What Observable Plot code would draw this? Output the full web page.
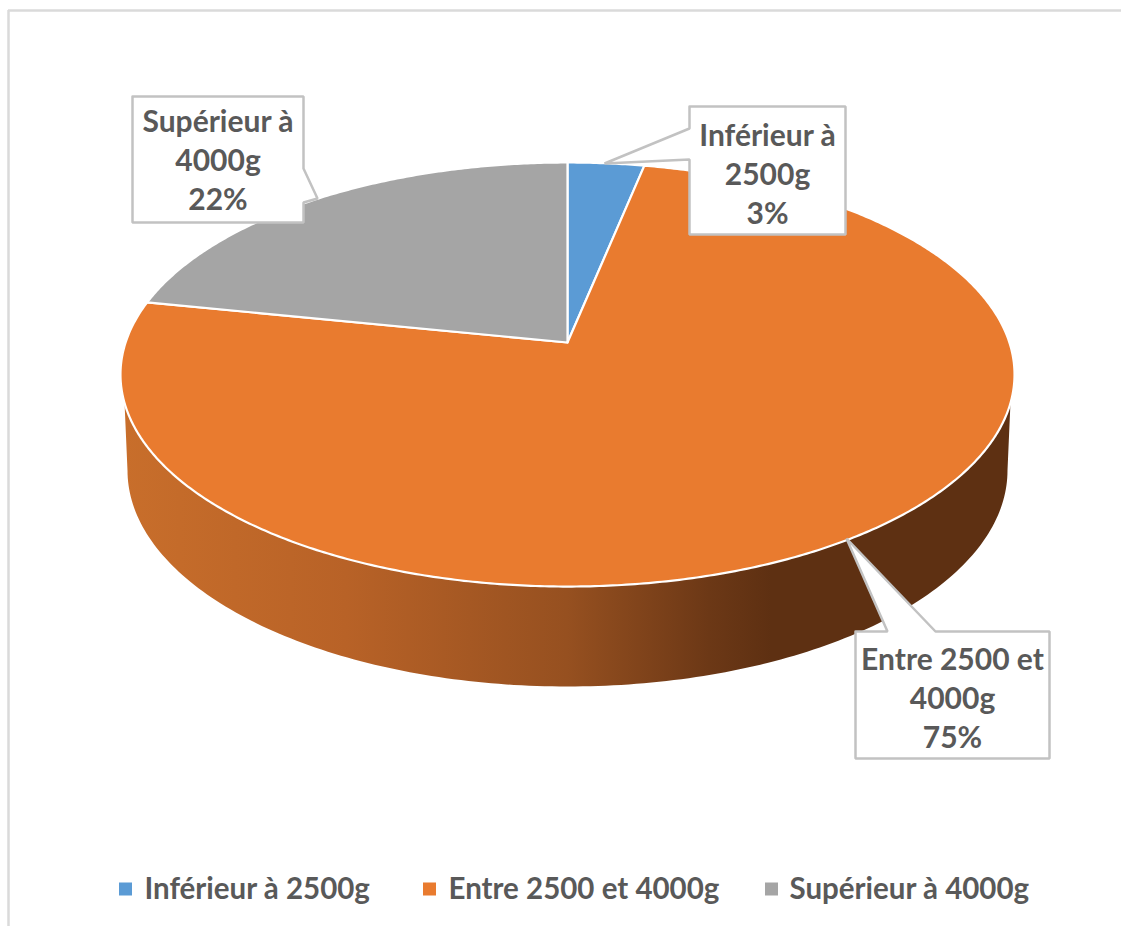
<!DOCTYPE html>
<html lang="fr">
<head>
<meta charset="utf-8">
<title>Poids de naissance</title>
<script src="https://cdn.jsdelivr.net/npm/d3@7"></script>
<script src="https://cdn.jsdelivr.net/npm/@observablehq/plot@0.6"></script>
<style>
  html, body { margin: 0; padding: 0; background: #fff; overflow: hidden; }
  svg { display: block; }
</style>
</head>
<body>
<div id="chart"></div>
<script>
// Data
const categories = ["Inférieur à 2500g", "Entre 2500 et 4000g", "Supérieur à 4000g"];
const shares = [3.2, 75, 21.8];
const calloutLines = [["Inférieur à", "2500g"], ["Entre 2500 et", "4000g"], ["Supérieur à", "4000g"]];
const sliceColors = ["#5B9BD5", "#E97B2F", "#A5A5A5"];

// Layout of the page (pixels on the 1:1 position scales)
const W = 1121, H = 926;
const apex = {x: 567, y: 342};
const tilt = {k: 0.151, a: 441.9, b: 207.2};
const base = {cx: 567, cy: 470, rx: 440, ry: 216};
const sideTop = 402;
const callouts = [
  {x1: 689, x2: 845, y1: 106, y2: 234, cy: 172,
   wedge: [[689, 128], [604, 163], [689, 159]], side: "left"},
  {x1: 855, x2: 1049, y1: 631, y2: 758, cy: 696,
   wedge: [[887, 631], [846, 538], [935, 631]], side: "top"},
  {x1: 132, x2: 303, y1: 96, y2: 222, cy: 158,
   wedge: [[303, 168], [317, 198], [303, 202]], side: "right"}
];
const legendRow = {y: 889, size: 13, swatch: [119, 423, 765], label: [144, 448, 789]};
const textColor = "#595959", frameColor = "#DADADA", calloutColor = "#C2C2C2";
const sideStops = [[0, "#C86E2B"], [0.25, "#B86227"], [0.5, "#965020"], [0.66, "#6C3816"], [0.73, "#5E3012"], [1, "#5E3012"]];

// Perspective view of a rim point, from the fraction of the pie already turned
function rim(fraction) {
  const t = 2 * Math.PI * fraction, X = Math.sin(t), Y = -Math.cos(t), d = 1 - tilt.k * Y;
  return {x: apex.x + tilt.a * X / d, y: apex.y + tilt.b * Y / d};
}

// Slices
const total = d3.sum(shares);
let turned = 0;
const slicePoints = [];
categories.forEach((name, i) => {
  const start = turned / total, end = (turned + shares[i]) / total;
  turned += shares[i];
  const n = Math.ceil((end - start) * 720);
  slicePoints.push({name, ...apex});
  for (let j = 0; j <= n; ++j) slicePoints.push({name, ...rim(start + (end - start) * j / n)});
  slicePoints.push({name, ...apex});
});

// Cylinder wall
const frontRim = d3.range(0, 1.0001, 1 / 1440).map(rim).filter((p) => p.y >= sideTop).sort((a, b) => a.x - b.x);
const baseRim = d3.range(0, 180.5, 1).map((deg) => ({
  x: base.cx + base.rx * Math.cos(deg * Math.PI / 180),
  y: base.cy + base.ry * Math.sin(deg * Math.PI / 180)
}));
const wall = [...frontRim, ...baseRim, frontRim[0]];

// Callouts: box outline with its pointer
const calloutPoints = callouts.flatMap((c, id) => {
  const {x1, x2, y1, y2, wedge, side} = c;
  const w = wedge.map(([x, y]) => ({x, y}));
  const ring =
    side === "left" ? [{x: x1, y: y1}, {x: x2, y: y1}, {x: x2, y: y2}, {x: x1, y: y2}, ...[...w].reverse()] :
    side === "top" ? [{x: x1, y: y1}, ...w, {x: x2, y: y1}, {x: x2, y: y2}, {x: x1, y: y2}] :
    [{x: x1, y: y1}, {x: x2, y: y1}, ...w, {x: x2, y: y2}, {x: x1, y: y2}];
  return [...ring, ring[0]].map((p) => ({...p, id}));
});
const calloutTexts = callouts.map((c, i) => ({
  x: (c.x1 + c.x2) / 2, y: c.cy,
  text: [...calloutLines[i], `${Math.round(shares[i])}%`].join("\n")
}));

const legend = categories.map((name, i) => ({
  name,
  x1: legendRow.swatch[i], x2: legendRow.swatch[i] + legendRow.size,
  y1: legendRow.y - legendRow.size / 2, y2: legendRow.y + legendRow.size / 2,
  tx: legendRow.label[i]
}));

function gradient() {
  const defs = d3.create("svg:defs");
  const g = defs.append("linearGradient").attr("id", "wallShade");
  sideStops.forEach(([o, c]) => g.append("stop").attr("offset", o).attr("stop-color", c));
  return defs.node();
}

const font = "Lato, Carlito, sans-serif";
const chart = Plot.plot({
  width: W, height: H,
  marginTop: 0, marginRight: 0, marginBottom: 0, marginLeft: 0,
  x: {domain: [0, W], range: [0, W], axis: null},
  y: {domain: [0, H], range: [0, H], axis: null},
  color: {domain: categories, range: sliceColors},
  style: {background: "#fff", fontFamily: font},
  marks: [
    gradient,
    Plot.ruleY([10], {x1: 8, x2: W, stroke: frameColor, strokeWidth: 2.5}),
    Plot.ruleX([8], {y1: 10, y2: H, stroke: frameColor, strokeWidth: 2.5}),
    Plot.line(wall, {x: "x", y: "y", fill: "url(#wallShade)", stroke: "none"}),
    Plot.line(slicePoints, {x: "x", y: "y", z: "name", fill: "name", stroke: "#fff", strokeWidth: 2.2, strokeLinejoin: "round"}),
    Plot.line(calloutPoints, {x: "x", y: "y", z: "id", fill: "#fff", stroke: calloutColor, strokeWidth: 2.5, strokeLinejoin: "miter"}),
    Plot.text(calloutTexts, {x: "x", y: "y", text: "text", fontSize: 30, fontWeight: 700, fill: textColor, lineHeight: 1.31, textAnchor: "middle"}),
    Plot.rect(legend, {x1: "x1", x2: "x2", y1: "y1", y2: "y2", fill: "name"}),
    Plot.text(legend, {x: "tx", y: () => legendRow.y, text: "name", textAnchor: "start", fontSize: 29.5, fontWeight: 700, fill: textColor})
  ]
});
document.getElementById("chart").append(chart);
</script>
</body>
</html>
